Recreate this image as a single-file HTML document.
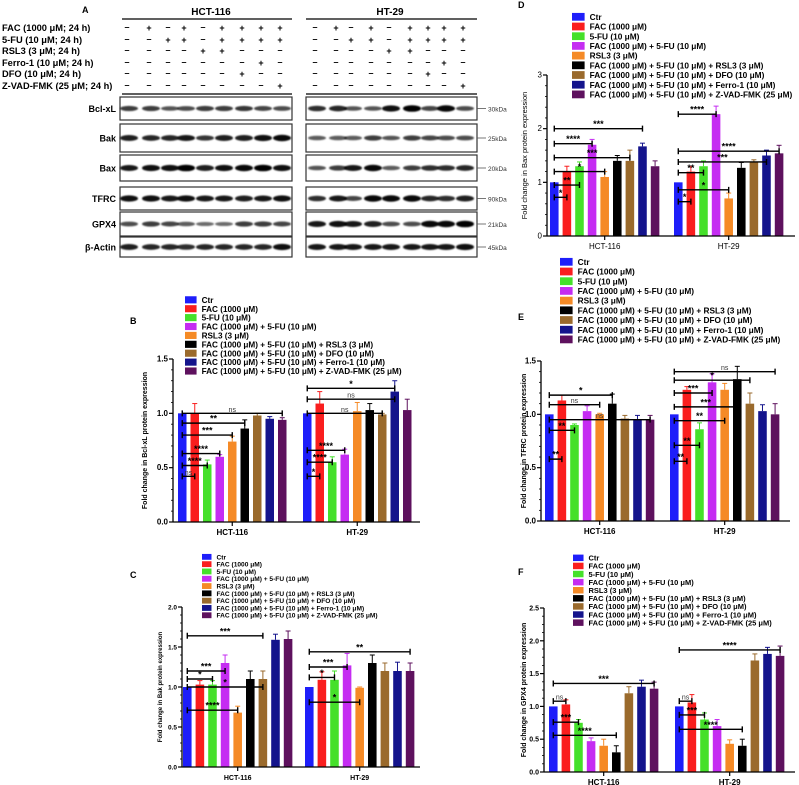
<!DOCTYPE html>
<html><head><meta charset="utf-8">
<style>
html,body{margin:0;padding:0;background:#fff;}
svg{display:block;font-family:"Liberation Sans",Arial,sans-serif;}
</style></head>
<body>
<svg id="fig" width="799" height="785" viewBox="0 0 799 785" xmlns="http://www.w3.org/2000/svg">
<defs><filter id="blur" x="-20%" y="-50%" width="140%" height="200%"><feGaussianBlur stdDeviation="0.8"/></filter></defs>
<g id="panelA"></g>
<g id="charts"></g>
</svg>
<script>
const NS="http://www.w3.org/2000/svg";
const svg=document.getElementById('fig');
function mk(tag,attrs,parent,text){const e=document.createElementNS(NS,tag);for(const k in attrs)e.setAttribute(k,attrs[k]);if(text!==undefined)e.textContent=text;(parent||svg).appendChild(e);return e;}

/* ---------- Panel A: Western blot ---------- */
const treatments=["FAC (1000 μM; 24 h)","5-FU (10 μM; 24 h)","RSL3 (3 μM; 24 h)","Ferro-1 (10 μM; 24 h)","DFO (10 μM; 24 h)","Z-VAD-FMK (25 μM; 24 h)"];
const signs=[[0,1,0,1,0,1,1,1,1],[0,0,1,1,0,1,1,1,1],[0,0,0,0,1,1,0,0,0],[0,0,0,0,0,0,0,1,0],[0,0,0,0,0,0,1,0,0],[0,0,0,0,0,0,0,0,1]];
const proteins=["Bcl-xL","Bak","Bax","TFRC","GPX4","β-Actin"];
const kda=["30kDa","25kDa","20kDa","90kDa","21kDa","45kDa"];
const bandHCT=[[.6,.6,.45,.5,.6,.6,.65,.55,.5],[.8,.75,.75,.85,.65,.8,.8,.9,.95],[.85,.9,.9,1,.8,.9,.95,1,.9],[.9,.9,.85,.9,.85,.85,.8,.85,.9],[.5,.6,.55,.4,.3,.3,.6,.6,.55],[.8,.75,.75,.7,.75,.75,.75,.75,.9]];
const bandHT=[[.7,.75,.45,.45,.9,1,.55,.95,.5],[.4,.4,.4,.6,.45,.6,.55,.5,.5],[.45,.6,.85,.95,.4,.6,.7,.7,.75],[.7,.85,.55,.95,.95,.95,.75,.7,.8],[.85,.9,.85,.8,.5,.5,.95,.95,1],[.85,.85,.85,.85,.85,.85,.85,.85,.9]];
const A=document.getElementById('panelA');
mk('text',{x:82,y:13,'font-size':9,'font-weight':'bold',},A,'A');
const cellTitles=[["HCT-116",211,122,292],["HT-29",390,306,477]];
cellTitles.forEach(c=>{mk('text',{x:c[1],y:15,'font-size':10,'font-weight':'bold','text-anchor':'middle',},A,c[0]);
 mk('line',{x1:c[2],x2:c[3],y1:19,y2:19,stroke:'#000','stroke-width':1.3},A);
 mk('line',{x1:c[2],x2:c[3],y1:94,y2:94,stroke:'#000','stroke-width':1.3},A);});
const colsH=[127,149,168,184,203,222,242,261,280];
const colsT=[315,336,351,371,389,410,428,444,463];
const rowY=[31,43,54,66,77,89];
treatments.forEach((t,i)=>{mk('text',{x:2,y:rowY[i],'font-size':9.3,'font-weight':'bold',},A,t);
 [colsH,colsT].forEach(cols=>cols.forEach((cx,j)=>{mk('text',{x:cx,y:rowY[i]-(signs[i][j]?0:1),'font-size':9,'font-weight':'bold','text-anchor':'middle'},A,signs[i][j]?'+':'–');}));});
const blotRows=[[97,120],[124,152],[155,181],[187,210],[212,236],[237,257]];
blotRows.forEach((r,i)=>{
 const cy=(r[0]+r[1])/2;
 mk('text',{x:116,y:cy+3.5,'font-size':9,'font-weight':'bold','text-anchor':'end',},A,proteins[i]);
 [[120,292,colsH,bandHCT],[306,477,colsT,bandHT]].forEach(b=>{
  mk('rect',{x:b[0],y:r[0],width:b[1]-b[0],height:r[1]-r[0],fill:'#fff',stroke:'#333','stroke-width':1.2,},A);
  b[2].forEach((cx,j)=>{const v=b[3][i][j];mk('ellipse',{cx:cx+2,cy:cy,rx:9,ry:1.5+v*1.8,fill:'#000','fill-opacity':0.4+v*0.6,filter:'url(#blur)'},A);});
 });
 mk('line',{x1:477,x2:486,y1:cy,y2:cy,stroke:'#555','stroke-width':.8},A);
 mk('text',{x:488,y:cy+3,'font-size':6.5,fill:'#333',},A,kda[i]);
});

/* ---------- Bar chart data ---------- */
const legendLabels=["Ctr","FAC (1000 μM)","5-FU (10 μM)","FAC (1000 μM) + 5-FU (10 μM)","RSL3 (3 μM)","FAC (1000 μM) + 5-FU (10 μM) + RSL3 (3 μM)","FAC (1000 μM) + 5-FU (10 μM) + DFO (10 μM)","FAC (1000 μM) + 5-FU (10 μM) + Ferro-1 (10 μM)","FAC (1000 μM) + 5-FU (10 μM) + Z-VAD-FMK (25 μM)"];
const seriesColors=["#1e1efa","#fa1e1e","#45e02a","#c52cf2","#f58a26","#000000","#9a6a2c","#14148c","#5e115e"];
const groups=["HCT-116","HT-29"];

const bHCT=[1,1.0,0.53,0.6,0.74,0.86,0.98,0.95,0.94];
const bHT=[1,1.09,0.55,0.62,1.02,1.03,0.99,1.2,1.03];
const bErr=[0,0.09,0.04,0.02,0.05,0.08,0.02,0.02,0.02, 0,0.11,0.05,0.05,0.08,0.06,0.01,0.1,0.1];
const bTicks=[0,0.5,1.0,1.5];
const bSig=[[0,0,8,1.0,"ns"],[0,0,5,0.91,"**"],[0,0,4,0.8,"***"],[0,0,3,0.63,"****"],[0,0,2,0.52,"****"],[0,0,1,0.42,"ns"],[1,0,7,1.23,"*"],[1,0,7,1.13,"ns"],[1,0,6,1.0,"ns"],[1,0,3,0.66,"****"],[1,0,2,0.55,"****"],[1,0,1,0.42,"*"]];

const cHCT=[1,1.03,1.03,1.3,0.68,1.1,1.1,1.59,1.6];
const cHT=[1,1.09,1.09,1.27,0.99,1.3,1.2,1.2,1.2];
const cErr=[0,0.05,0.05,0.1,0.08,0.1,0.1,0.07,0.1, 0,0.1,0.11,0.15,0.01,0.1,0.1,0.11,0.1];
const cTicks=[0,0.5,1.0,1.5,2.0];
const cSig=[[0,0,6,1.64,"***"],[0,0,3,1.2,"***"],[0,0,2,1.1,"*"],[0,0,6,1.0,"*"],[0,0,4,0.71,"****"],[1,0,8,1.44,"**"],[1,0,3,1.25,"***"],[1,0,2,1.12,"*"],[1,0,4,0.81,"*"]];

const dHCT=[1,1.2,1.3,1.7,1.1,1.4,1.4,1.67,1.3];
const dHT=[1,1.2,1.3,2.27,0.7,1.27,1.37,1.5,1.54];
const dErr=[0,0.1,0.08,0.1,0.1,0.1,0.2,0.06,0.1, 0,0.1,0.1,0.15,0.1,0.1,0.05,0.1,0.15];
const dTicks=[0,1,2,3];
const dSig=[[0,0,7,2.0,"***"],[0,0,3,1.72,"****"],[0,0,6,1.46,"***"],[0,0,4,1.2,"*"],[0,0,2,0.95,"**"],[0,0,1,0.72,"*"],[1,0,3,2.27,"****"],[1,0,8,1.58,"****"],[1,0,7,1.38,"***"],[1,0,2,1.18,"**"],[1,0,4,0.86,"*"],[1,0,1,0.64,"*"]];

const eHCT=[1,1.13,0.9,1.03,1.0,1.1,0.96,0.95,0.95];
const eHT=[1,1.23,0.86,1.3,1.23,1.33,1.1,1.03,1.0];
const eErr=[0,0.05,0.01,0.05,0.01,0.09,0.03,0.04,0.04, 0,0.03,0.06,0.08,0.06,0.12,0.1,0.06,0.1];
const eTicks=[0,0.5,1.0,1.5];
const eSig=[[0,0,5,1.18,"*"],[0,0,4,1.09,"ns"],[0,0,8,0.95,"ns"],[0,0,2,0.85,"**"],[0,0,1,0.58,"**"],[1,0,8,1.4,"ns"],[1,0,6,1.32,"*"],[1,0,3,1.2,"***"],[1,0,5,1.07,"***"],[1,0,4,0.94,"**"],[1,0,2,0.71,"**"],[1,0,1,0.56,"**"]];

const fHCT=[1,1.03,0.75,0.47,0.4,0.3,1.2,1.3,1.27];
const fHT=[1,1.06,0.8,0.7,0.43,0.4,1.7,1.8,1.77];
const fErr=[0,0.07,0.05,0.05,0.1,0.1,0.1,0.1,0.1, 0,0.12,0.1,0.1,0.06,0.1,0.1,0.1,0.15];
const fTicks=[0,0.5,1.0,1.5,2.0,2.5];
const fSig=[[0,0,8,1.35,"***"],[0,0,1,1.08,"ns"],[0,0,2,0.76,"***"],[0,0,5,0.56,"****"],[1,0,8,1.86,"****"],[1,0,1,1.08,"ns"],[1,0,2,0.87,"***"],[1,0,5,0.65,"****"]];

/* ---------- chart drawer ---------- */
function drawChart(cfg,hct,ht,err,ticks,sig){
 const G=mk('g',{},document.getElementById('charts'));
 const ymax=ticks[ticks.length-1];
 const yS=v=>cfg.y0-(v/ymax)*(cfg.y0-cfg.yTop);
 const pitch=cfg.pitch, bw=pitch*0.68;
 const xS=(g,i)=>cfg.gx[g]+i*pitch;
 if(cfg.letter) mk('text',{x:cfg.letter[1],y:cfg.letter[2],'font-size':9,'font-weight':'bold',},G,cfg.letter[0]);
 legendLabels.forEach((l,i)=>{
  const ly=cfg.ly+i*cfg.lsp;
  const sw=mk('rect',{x:cfg.lx,y:ly-cfg.lsp*0.42,width:cfg.lsp*1.3,height:cfg.lsp*0.8,fill:seriesColors[i]},G);
  
  
  const t=mk('text',{x:cfg.lx+cfg.lsp*1.3+5,y:ly+cfg.lfs*0.35,'font-size':cfg.lfs,'font-weight':'bold'},G,l);
  
  
 });
 [hct,ht].forEach((vals,g)=>vals.forEach((v,i)=>{
  const x=xS(g,i), e=err[g*9+i];
  const r=mk('rect',{x:x,y:yS(v),width:bw,height:cfg.y0-yS(v),fill:seriesColors[i]},G);
  
  
  if(e>0){const cx=x+bw/2;mk('line',{x1:cx,x2:cx,y1:yS(v),y2:yS(v+e),stroke:seriesColors[i],'stroke-width':1},G);
   mk('line',{x1:cx-2.5,x2:cx+2.5,y1:yS(v+e),y2:yS(v+e),stroke:seriesColors[i],'stroke-width':1},G);}
 }));
 sig.forEach(s=>{
  const x1=xS(s[0],s[1])+bw/2, x2=xS(s[0],s[2])+bw/2, y=yS(s[3]);
  const br=mk('path',{d:`M${x1},${y-3}V${y+3}M${x1},${y}H${x2}M${x2},${y-3}V${y+3}`,stroke:'#000','stroke-width':1.4,fill:'none'},G);
  
  
  const st=mk('text',{x:(x1+x2)/2,y:y-1.5,'font-size':s[4]==='ns'?7:9,'font-weight':s[4]==='ns'?'normal':'bold','text-anchor':'middle',fill:s[4]==='ns'?'#333':'#000'},G,s[4]);
  
  
 });
 const ax=mk('g',{},G);
 
 
 mk('line',{x1:cfg.ax,x2:cfg.ax,y1:cfg.y0,y2:cfg.yTop,stroke:'#000','stroke-width':1.3},ax);
 const nMinor=cfg.minor;
 for(let k=0;k<ticks.length;k++){
  const y=yS(ticks[k]);
  mk('line',{x1:cfg.ax-4,x2:cfg.ax,y1:y,y2:y,stroke:'#000','stroke-width':1.2},ax);
  mk('text',{x:cfg.ax-5,y:y+2.5,'font-size':cfg.tfs,'font-weight':cfg.bold?'bold':'normal','text-anchor':'end'},ax,cfg.fmt(ticks[k]));
  if(k<ticks.length-1&&nMinor) for(let m=1;m<nMinor;m++){const yy=yS(ticks[k]+(ticks[k+1]-ticks[k])*m/nMinor);mk('line',{x1:cfg.ax-2,x2:cfg.ax,y1:yy,y2:yy,stroke:'#000','stroke-width':.8},ax);}
 }
 const xa=mk('g',{},G);
 
 
 mk('line',{x1:cfg.ax,x2:cfg.axEnd,y1:cfg.y0,y2:cfg.y0,stroke:'#000','stroke-width':1.3},xa);
 groups.forEach((gname,g)=>{const cx=xS(g,0)+(8*pitch+bw)/2;
  mk('line',{x1:cx,x2:cx,y1:cfg.y0,y2:cfg.y0+4,stroke:'#000','stroke-width':1.2},xa);
  mk('text',{x:cx,y:cfg.y0+13,'font-size':cfg.xfs,'font-weight':cfg.bold?'bold':'normal','text-anchor':'middle'},xa,gname);});
 const cy=(cfg.y0+cfg.yTop)/2;
 const yt=mk('text',{x:cfg.ytx,y:cy,'font-size':cfg.ytfs,'font-weight':cfg.bold?'bold':'normal','text-anchor':'middle',transform:`rotate(-90 ${cfg.ytx} ${cy})`},G,cfg.ytitle);
 
 
}
const f1=v=>v.toFixed(1), f0=v=>String(v);
drawChart({name:'chart-b-bcl-xl',letter:['B',130,324],y0:522,yTop:359,ax:173,axEnd:420,gx:[178,303],pitch:12.5,lx:185,ly:300,lsp:8.9,lfs:8.2,tfs:8,xfs:8,ytfs:7,bold:true,fmt:f1,minor:5,ytx:147,ytitle:'Fold change in Bcl-xL protein expression'},bHCT,bHT,bErr,bTicks,bSig);
drawChart({name:'chart-c-bak',letter:['C',130,578],y0:767,yTop:607,ax:182,axEnd:420,gx:[183,305],pitch:12.6,lx:202,ly:557,lsp:7.3,lfs:6.6,tfs:6.5,xfs:7,ytfs:6,bold:true,fmt:f1,minor:5,ytx:162,ytitle:'Fold change in Bak protein expression'},cHCT,cHT,cErr,cTicks,cSig);
drawChart({name:'chart-d-bax',letter:['D',518,8],y0:236,yTop:75,ax:547,axEnd:795,gx:[550,674],pitch:12.6,lx:572,ly:17,lsp:9.7,lfs:8.3,tfs:8,xfs:8,ytfs:7.5,bold:false,fmt:f0,minor:5,ytx:527,ytitle:'Fold change in Bax protein expression'},dHCT,dHT,dErr,dTicks,dSig);
drawChart({name:'chart-e-tfrc',letter:['E',518,320],y0:521,yTop:361,ax:541,axEnd:790,gx:[545,670],pitch:12.6,lx:560,ly:262,lsp:9.7,lfs:8.3,tfs:8,xfs:8,ytfs:7,bold:true,fmt:f1,minor:5,ytx:526,ytitle:'Fold change in TFRC protein expression'},eHCT,eHT,eErr,eTicks,eSig);
drawChart({name:'chart-f-gpx4',letter:['F',518,575],y0:772,yTop:608,ax:544,axEnd:795,gx:[549,675],pitch:12.6,lx:573,ly:558,lsp:8.1,lfs:7.5,tfs:7,xfs:8,ytfs:7,bold:true,fmt:f1,minor:4,ytx:526,ytitle:'Fold change in GPX4 protein expression'},fHCT,fHT,fErr,fTicks,fSig);
</script>
</body></html>
